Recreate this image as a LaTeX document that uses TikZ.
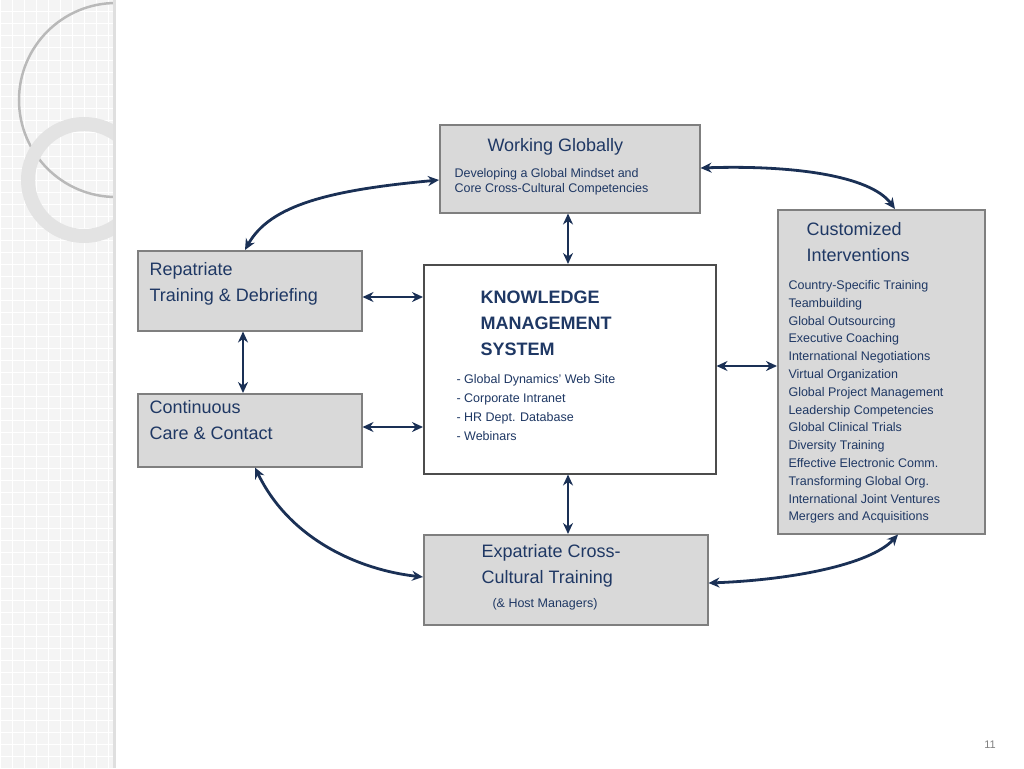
\documentclass[tikz,border=0pt]{standalone}
\usepackage{fontspec}
\setmainfont{Liberation Sans}
\usetikzlibrary{arrows.meta}
\definecolor{navy}{HTML}{1F3864}
\definecolor{boxg}{HTML}{D9D9D9}
\definecolor{boxb}{HTML}{7F7F7F}
\tikzset{
 gbox/.style={draw=boxb,fill=boxg,line width=1.5pt,text=navy},
 dar/.style={{Stealth[length=11pt,width=10pt]}-{Stealth[length=11pt,width=10pt]},line width=2.8pt,draw=navy!85!black},
 ttl/.style={font=\fontsize{18}{26}\selectfont,text=navy,align=left},
 sml/.style={font=\fontsize{12.5}{14.5}\selectfont,text=navy,align=left},
}
\begin{document}
\begin{tikzpicture}[x=1pt,y=-1pt]
\useasboundingbox (0,0) rectangle (1024,768);
% left decoration
\fill[gray!9] (0,0) rectangle (113,768);
\foreach \i in {0,12,...,768} {\draw[white,line width=1pt] (0,\i) -- (113,\i);}
\foreach \i in {0,12,...,108} {\draw[white,line width=1pt] (\i,0) -- (\i,768);}
\begin{scope}
\clip (0,0) rectangle (113,768);
\draw[gray!55,line width=2.5pt] (116,100) circle (97);
\draw[gray!22,line width=14pt] (84,180) circle (56);
\end{scope}
\fill[gray!25] (113,0) rectangle (116,768);
% boxes
\node[gbox,minimum width=260,minimum height=88,anchor=north west] (wg) at (439,124) {};
\node[ttl,anchor=north west] at (484,135) {Working Globally};
\node[sml,anchor=north west] at (451,165) {Developing a Global Mindset and\\Core Cross-Cultural Competencies};
\node[gbox,minimum width=207,minimum height=324,anchor=north west] (ci) at (777,209) {};
\node[ttl,anchor=north west] at (803,219) {Customized\\Interventions};
\node[sml,anchor=north west,font=\fontsize{12.5}{17.8}\selectfont] at (785,277) {Country-Specific Training\\Teambuilding\\Global Outsourcing\\Executive Coaching\\International Negotiations\\Virtual Organization\\Global Project Management\\Leadership Competencies\\Global Clinical Trials\\Diversity Training\\Effective Electronic Comm.\\Transforming Global Org.\\International Joint Ventures\\Mergers and Acquisitions};
\node[gbox,minimum width=224,minimum height=80,anchor=north west] (rp) at (137,250) {};
\node[ttl,anchor=north west] at (146,259) {Repatriate\\Training \& Debriefing};
\node[gbox,minimum width=224,minimum height=73,anchor=north west] (cc) at (137,393) {};
\node[ttl,anchor=north west] at (146,397) {Continuous\\Care \& Contact};
\node[draw=black!70,fill=white,line width=1.5pt,minimum width=292,minimum height=209,anchor=north west] (km) at (423,264) {};
\node[ttl,anchor=north west,font=\bfseries\fontsize{18}{26}\selectfont] at (477,287) {KNOWLEDGE\\MANAGEMENT\\SYSTEM};
\node[sml,anchor=north west,font=\fontsize{12.5}{19}\selectfont] at (453,371) {- Global Dynamics' Web Site\\- Corporate Intranet\\- HR Dept. Database\\- Webinars};
\node[gbox,minimum width=284,minimum height=90,anchor=north west] (ex) at (423,534) {};
\node[ttl,anchor=north west] at (478,541) {Expatriate Cross-\\Cultural Training};
\node[sml,anchor=north west] at (489,595) {(\& Host Managers)};
% connectors
\draw[dar] (wg.west|-0,180) .. controls (330,190) and (270,205) .. (rp.north-|245,0);
\draw[dar] (wg.east|-0,168) .. controls (790,165) and (870,175) .. (ci.north-|895,0);
\draw[dar] (cc.south-|255,0) .. controls (290,540) and (360,570) .. (ex.west|-0,577);
\draw[dar] (ex.east|-0,583) .. controls (790,580) and (870,565) .. (ci.south-|898,0);
\draw[dar] (wg.south-|568,0) -- (km.north-|568,0);
\draw[dar] (rp.east|-0,297) -- (km.west|-0,297);
\draw[dar] (rp.south-|243,0) -- (cc.north-|243,0);
\draw[dar] (cc.east|-0,427) -- (km.west|-0,427);
\draw[dar] (km.east|-0,366) -- (ci.west|-0,366);
\draw[dar] (km.south-|568,0) -- (ex.north-|568,0);
\node[text=gray,font=\fontsize{11}{13}\selectfont] (pg) at (990,745) {11};
\end{tikzpicture}
\end{document}
